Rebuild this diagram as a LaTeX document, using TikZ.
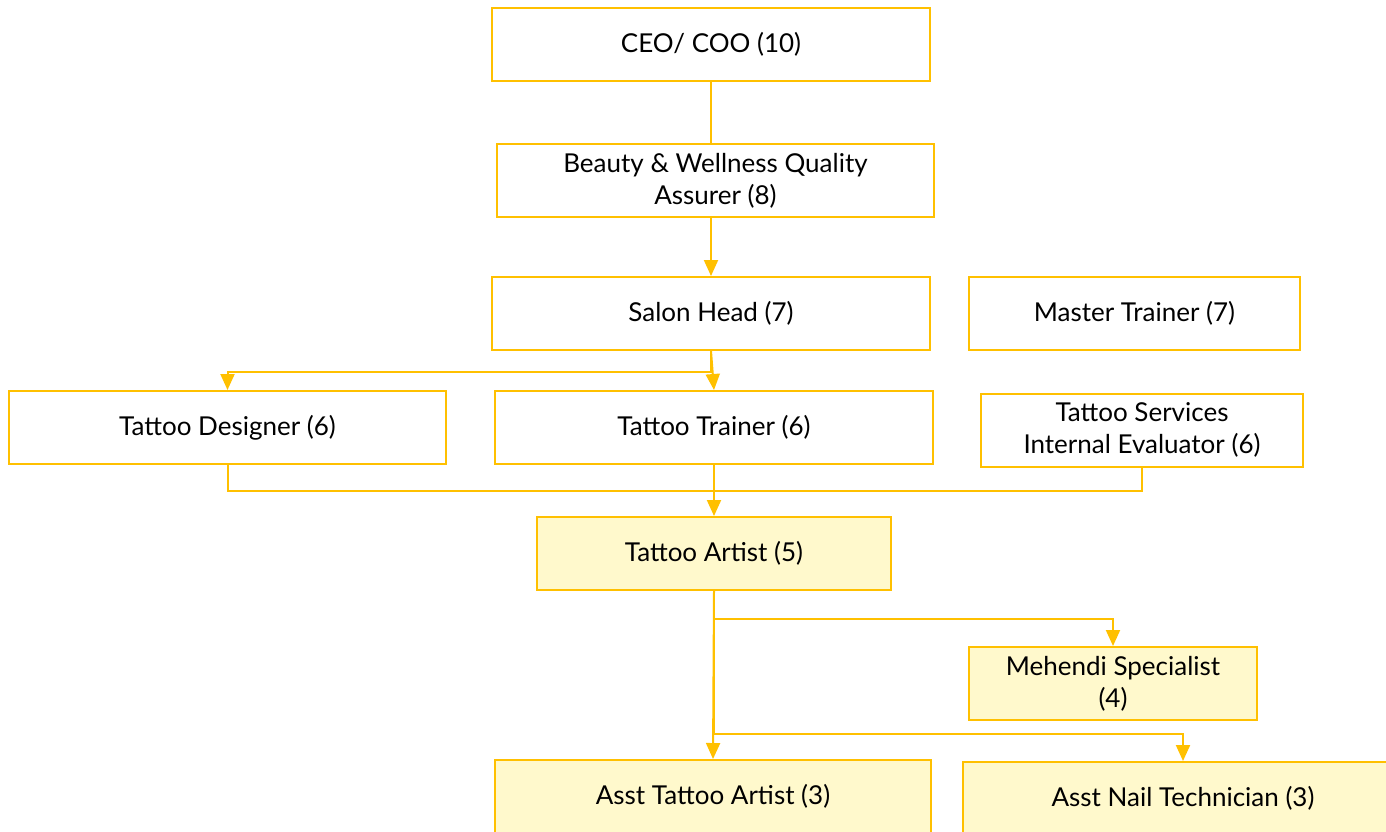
\documentclass[tikz,border=0pt]{standalone}
\usepackage{fontspec}
\setmainfont{Lato}
\usepackage{tikz}
\usetikzlibrary{arrows.meta}

\definecolor{gold}{HTML}{FFC000}
\definecolor{paleyellow}{HTML}{FFF9CC}

\tikzset{
  role/.style={draw=gold, line width=1pt, fill=white, align=center,
    minimum height=36.5pt, inner sep=2pt, font=\fontsize{13}{16}\selectfont},
  core/.style={role, fill=paleyellow},
  link/.style={draw=gold, line width=1pt},
  arr/.style={link, -{Triangle[width=7pt,length=8pt]}}
}

\begin{document}
\begin{tikzpicture}[x=0.5pt,y=-0.5pt]
\useasboundingbox (0,0) rectangle (1386,831);

\node[role,minimum width=219pt] (ceo) at (711,44.5) {CEO/ COO (10)};
\node[role,minimum width=218.5pt] (assurer) at (715.5,180.5) {Beauty \& Wellness Quality\\Assurer (8)};
\node[role,minimum width=219pt] (salon) at (711,313.5) {Salon Head (7)};
\node[role,minimum width=165.5pt] (master) at (1134.5,313.5) {Master Trainer (7)};

\node[role,minimum width=218.5pt] (designer) at (227.5,427.5) {Tattoo Designer (6)};
\node[role,minimum width=219pt] (trainer) at (714,427.5) {Tattoo Trainer (6)};
\node[role,minimum width=161pt] (evaluator) at (1142,430) {Tattoo Services\\Internal Evaluator (6)};

\node[core,minimum width=177pt] (artist) at (714,553.5) {Tattoo Artist (5)};
\node[core,minimum width=144pt] (mehendi) at (1113,683.5) {Mehendi Specialist\\(4)};
\node[core,minimum width=218pt] (asst) at (713,796.5) {Asst Tattoo Artist (3)};
\node[core,minimum width=220pt] (nail) at (1183,798.5) {Asst Nail Technician (3)};

\coordinate (join) at (714,491);

\draw[link] (ceo.south) -- (ceo.south |- assurer.north);
\draw[arr] (ceo.south |- assurer.south) -- (salon.north);

\draw[arr] (salon.south) -- ++(0,21) -| (designer.north);
\draw[arr] (salon.south) -- (trainer.north);

\draw[link] (designer.south) |- (join);
\draw[link] (evaluator.south) |- (join);
\draw[arr] (trainer.south) -- (artist.north);

\draw[arr] (artist.south) -- ++(0,28) -| (mehendi.north);
\draw[arr] (artist.south) -- ++(0,143) -| (nail.north);
\draw[arr] (artist.south) -- (asst.north);
\end{tikzpicture}
\end{document}
